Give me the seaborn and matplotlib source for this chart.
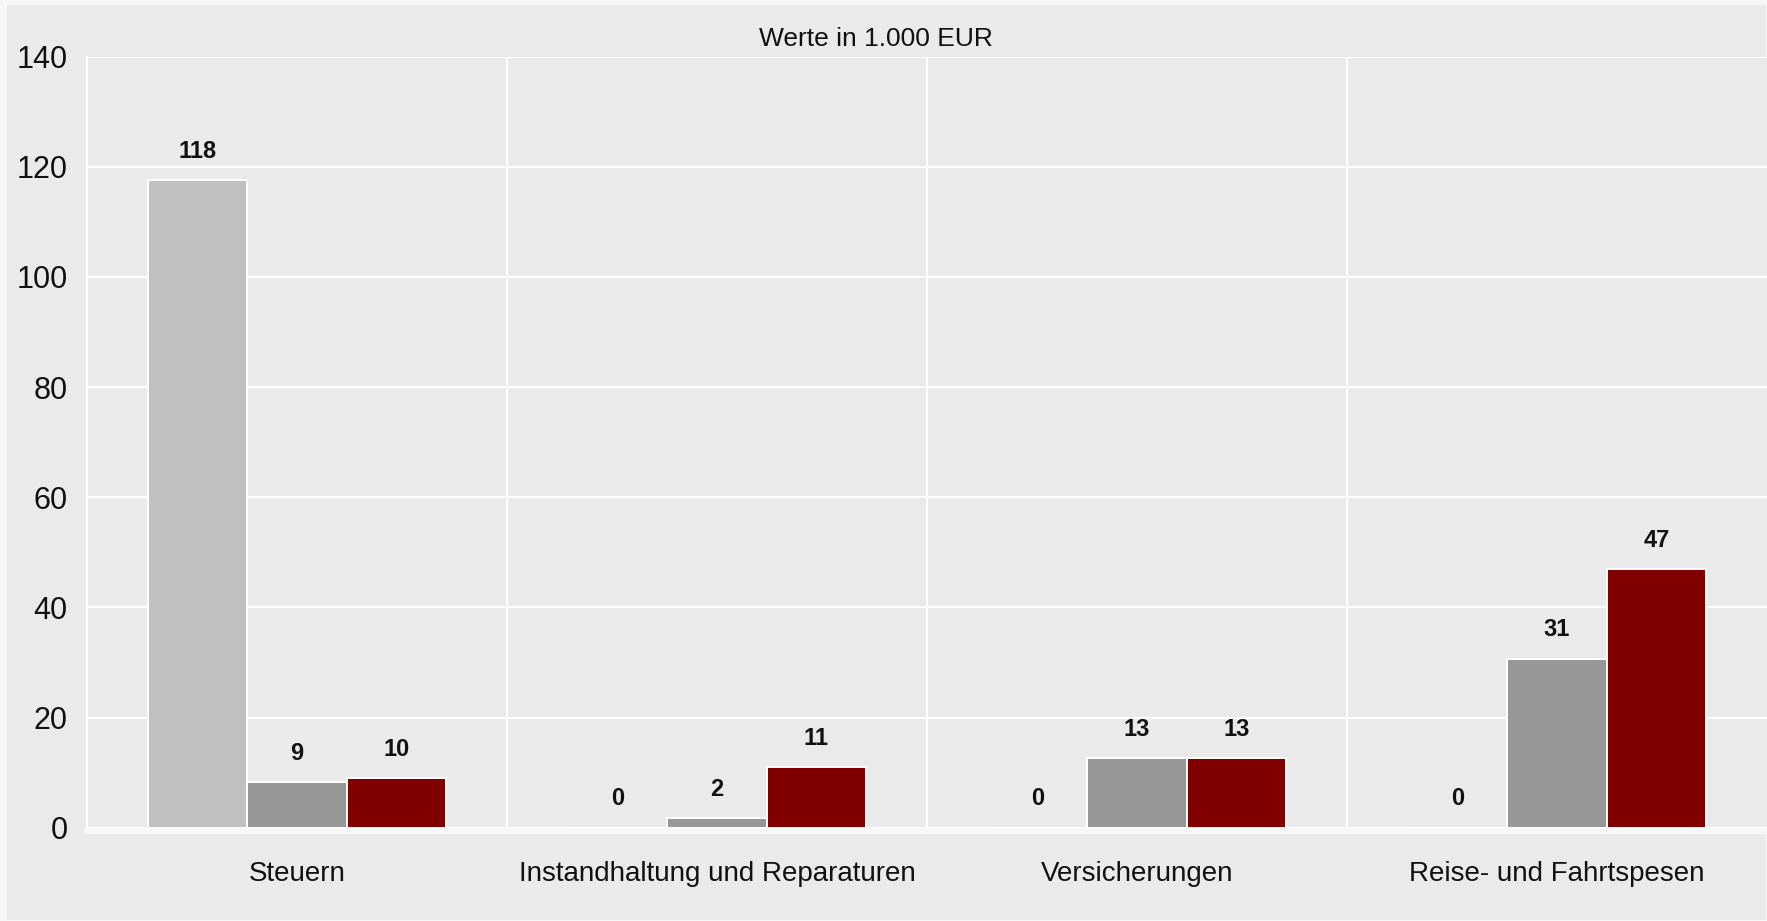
import matplotlib
matplotlib.use("Agg")
import matplotlib.pyplot as plt
import pandas as pd
import seaborn as sns
from matplotlib.patches import Rectangle

# data (values in 1.000 EUR)
CATEGORIES = ["Steuern", "Instandhaltung und Reparaturen", "Versicherungen", "Reise- und Fahrtspesen"]
SERIES = ["Reihe 1", "Reihe 2", "Reihe 3"]
SERIES_1 = [117.6, 0.0, 0.0, 0.0]
SERIES_2 = [8.3, 1.7, 12.6, 30.7]
SERIES_3 = [9.0, 11.0, 12.6, 46.9]
# printed labels as shown in the reference
LABELS_1 = [118, 0, 0, 0]
LABELS_2 = [9, 2, 13, 31]
LABELS_3 = [10, 11, 13, 47]
Y_TICKS = [0, 20, 40, 60, 80, 100, 120, 140]
TITLE = "Werte in 1.000 EUR"

PALETTE = ["#c0c0c0", "#979797", "#800000"]
BG = "#e9eae9"
FRAME = "#f7f7f7"


def build_frame() -> pd.DataFrame:
    rows = []
    for name, values in zip(SERIES, [SERIES_1, SERIES_2, SERIES_3]):
        for cat, val in zip(CATEGORIES, values):
            rows.append({"kategorie": cat, "reihe": name, "wert": val})
    return pd.DataFrame(rows)


def main() -> None:
    sns.set_theme(style="white")
    plt.rcParams["font.family"] = ["Liberation Sans", "DejaVu Sans"]

    df = build_frame()

    fig = plt.figure(figsize=(17.67, 9.21), dpi=100, facecolor=FRAME)
    fig.patches.append(
        Rectangle((7 / 1767, 1 / 921), 1759 / 1767, 915 / 921,
                  transform=fig.transFigure, facecolor=BG, edgecolor="none", zorder=-10)
    )
    ax = fig.add_axes([87 / 1767, 1 - 827.7 / 921, 1680 / 1767, 771 / 921])
    ax.set_zorder(1)
    ax.set_facecolor(BG)

    sns.barplot(
        data=df, x="kategorie", y="wert", hue="reihe", hue_order=SERIES,
        order=CATEGORIES, palette=PALETTE, saturation=1, width=0.71,
        edgecolor="white", linewidth=1.4, legend=False, ax=ax, zorder=3,
    )

    for container, labels in zip(ax.containers, [LABELS_1, LABELS_2, LABELS_3]):
        ax.bar_label(container, labels=[str(v) for v in labels], padding=12.5,
                     fontsize=17, fontweight="bold", color="#111111")

    ax.set_xlim(-0.5, len(CATEGORIES) - 0.5)
    ax.set_ylim(0, 140)
    ax.set_yticks(Y_TICKS)
    ax.set_xticks([i + 0.5 for i in range(len(CATEGORIES) - 1)], minor=True)

    ax.set_axisbelow(True)
    ax.grid(axis="y", which="major", color="white", linewidth=1.4)
    ax.grid(axis="x", which="minor", color="white", linewidth=1.4)
    ax.grid(axis="x", which="major", visible=False)

    ax.tick_params(axis="y", labelsize=22, length=0, pad=14, labelcolor="#111111")
    ax.tick_params(axis="x", which="major", labelsize=20, length=0, pad=22, labelcolor="#111111")
    ax.tick_params(axis="x", which="minor", length=0)

    for side in ["top", "right"]:
        ax.spines[side].set_visible(False)
    ax.spines["left"].set_color("white")
    ax.spines["left"].set_linewidth(1.4)
    ax.spines["bottom"].set_color(FRAME)
    ax.spines["bottom"].set_linewidth(4.5)
    ax.spines["bottom"].set_capstyle("round")
    ax.spines["bottom"].set_position(("outward", 2.3))

    ax.set_xlabel("")
    ax.set_ylabel("")

    fig.text(876 / 1767, 1 - 39.5 / 921, TITLE, ha="center", va="center",
             fontsize=19, color="#111111")

    fig.savefig("out.png", dpi=100, facecolor=FRAME)
    plt.close(fig)


if __name__ == "__main__":
    main()
